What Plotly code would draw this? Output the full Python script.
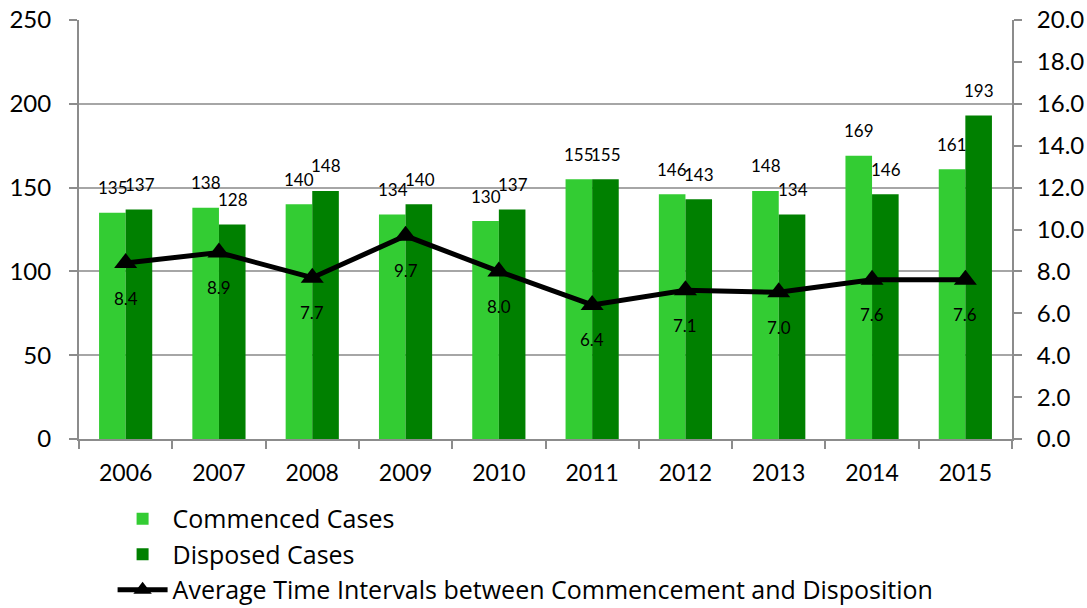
import plotly.graph_objects as go

years = ["2006", "2007", "2008", "2009", "2010", "2011", "2012", "2013", "2014", "2015"]
commenced = [135, 138, 140, 134, 130, 155, 146, 148, 169, 161]
disposed = [137, 128, 148, 140, 137, 155, 143, 134, 146, 193]
avg_interval = [8.4, 8.9, 7.7, 9.7, 8.0, 6.4, 7.1, 7.0, 7.6, 7.6]

FONT = "Lato"
LIGHT = "#33CC33"
DARK = "#008000"
GRID = "#A6A6A6"
AXIS = "#8C8C8C"

fig = go.Figure()
fig.add_trace(go.Bar(name="Commenced Cases", x=years, y=commenced,
                     marker=dict(color=LIGHT, line=dict(width=0))))
fig.add_trace(go.Bar(name="Disposed Cases", x=years, y=disposed,
                     marker=dict(color=DARK, line=dict(width=0))))
fig.add_trace(go.Scatter(
    name="Average Time Intervals between Commencement and Disposition",
    x=years, y=avg_interval, yaxis="y2", mode="lines+markers",
    line=dict(color="black", width=5),
    marker=dict(symbol="triangle-up", size=20, color="black")))

# value labels, positioned by category index on the categorical axis
annotations = []
lab_font = dict(size=17, color="black", family=FONT)
for i, (c, d, a) in enumerate(zip(commenced, disposed, avg_interval)):
    annotations.append(dict(x=i, y=c, text=str(c), showarrow=False, xref="x", yref="y",
                            xshift=-13, yshift=25, font=lab_font))
    annotations.append(dict(x=i, y=d, text=str(d), showarrow=False, xref="x", yref="y",
                            xshift=14, yshift=25, font=lab_font))
    annotations.append(dict(x=i, y=a, text=f"{a:.1f}", showarrow=False, xref="x", yref="y2",
                            yshift=-35, font=lab_font))

fig.update_layout(
    width=1087, height=608,
    margin=dict(l=79, r=75, t=20, b=169, autoexpand=False),
    paper_bgcolor="white", plot_bgcolor="white",
    font=dict(family=FONT, size=23, color="black"),
    barmode="group", bargap=0.43, bargroupgap=0,
    showlegend=True,
    legend=dict(x=0.036, y=-0.136, xanchor="left", yanchor="top",
                font=dict(size=25, family="Open Sans"), tracegroupgap=0, itemwidth=50,
                bgcolor="rgba(0,0,0,0)"),
    xaxis=dict(type="category", range=[-0.5, len(years) - 0.5], autorange=False,
               showgrid=False, showline=True, linecolor=AXIS, linewidth=2,
               ticks="outside", tickson="boundaries", ticklen=8, tickwidth=2, tickcolor=AXIS,
               tickfont=dict(size=23), tickangle=0, ticklabelstandoff=12),
    yaxis=dict(range=[0, 250], dtick=50, showgrid=True, gridcolor=GRID, gridwidth=1.5,
               showline=True, linecolor=AXIS, linewidth=2, ticks="outside", ticklen=8,
               tickwidth=2, tickcolor=AXIS, tickfont=dict(size=24), zeroline=False,
               ticklabelstandoff=13),
    yaxis2=dict(range=[0, 20], dtick=2, tickformat=".1f", overlaying="y", side="right",
                showgrid=False, showline=True, linecolor=AXIS, linewidth=2, ticks="outside",
                ticklen=8, tickwidth=2, tickcolor=AXIS, tickfont=dict(size=24), zeroline=False,
                ticklabelstandoff=10),
    annotations=annotations,
)

fig.write_html("out.html")
